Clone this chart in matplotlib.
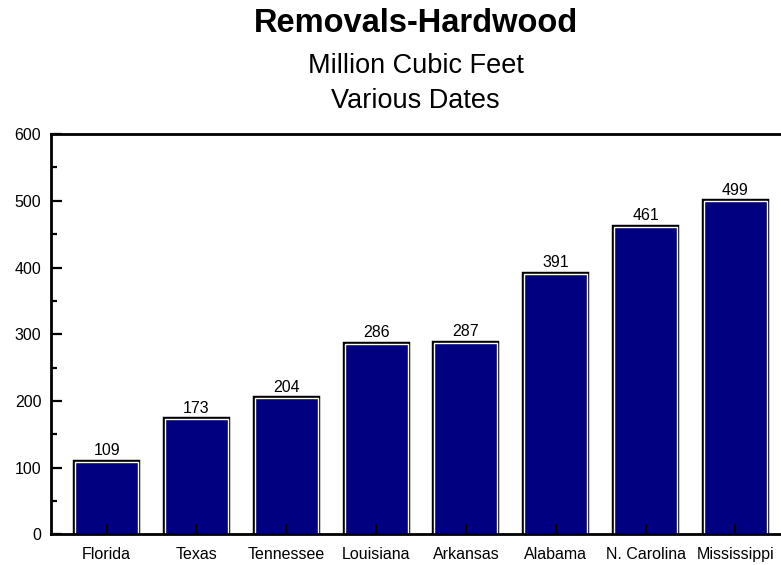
import matplotlib
matplotlib.use("Agg")
import matplotlib.pyplot as plt
import matplotlib.patheffects as pe
from matplotlib.ticker import MultipleLocator

states = ["Florida", "Texas", "Tennessee", "Louisiana", "Arkansas",
          "Alabama", "N. Carolina", "Mississippi"]
removals = [109, 173, 204, 286, 287, 391, 461, 499]
yticks = [0, 100, 200, 300, 400, 500, 600]

plt.rcParams['font.family'] = ['Liberation Sans', 'DejaVu Sans']

fig = plt.figure(figsize=(7.81, 5.65), dpi=100)
ax = fig.add_axes([0.0653, 0.0540, 0.9337, 0.7088])

x = list(range(len(states)))
bars = ax.bar(x, removals, width=0.7, color="#000080", edgecolor="white",
              linewidth=1.0, zorder=1)
for b in bars:
    b.set_path_effects([pe.Stroke(linewidth=3.2, foreground="black"), pe.Normal()])

for xi, v in zip(x, removals):
    ax.annotate(f"{v}", (xi, v), xytext=(0, 2.5), textcoords="offset points",
                ha="center", va="bottom", fontsize=11.5)

ax.set_xlim(-0.62, 7.5)
ax.set_ylim(0, 600)
ax.set_yticks(yticks)
ax.yaxis.set_minor_locator(MultipleLocator(50))
ax.set_xticks(x)
ax.set_xticklabels(states)

ax.tick_params(axis="y", which="major", direction="in", length=8.2, width=1.6,
               labelsize=11.5, pad=7)
ax.tick_params(axis="y", which="minor", direction="in", length=4.6, width=1.6)
ax.tick_params(axis="x", which="major", direction="in", length=7, width=1.6,
               labelsize=11.5, pad=9)

for s in ["left", "bottom", "top"]:
    ax.spines[s].set_linewidth(2)
ax.spines["right"].set_visible(False)

cx = 0.0653 + 0.9337 / 2
fig.text(cx, 1 - 32 / 565, "Removals-Hardwood", ha="center", va="baseline",
         fontsize=23.5, fontweight="bold")
fig.text(cx, 1 - 73 / 565, "Million Cubic Feet", ha="center", va="baseline",
         fontsize=19.5)
fig.text(cx, 1 - 108 / 565, "Various Dates", ha="center", va="baseline",
         fontsize=19.5)

fig.savefig("out.png", dpi=100)
